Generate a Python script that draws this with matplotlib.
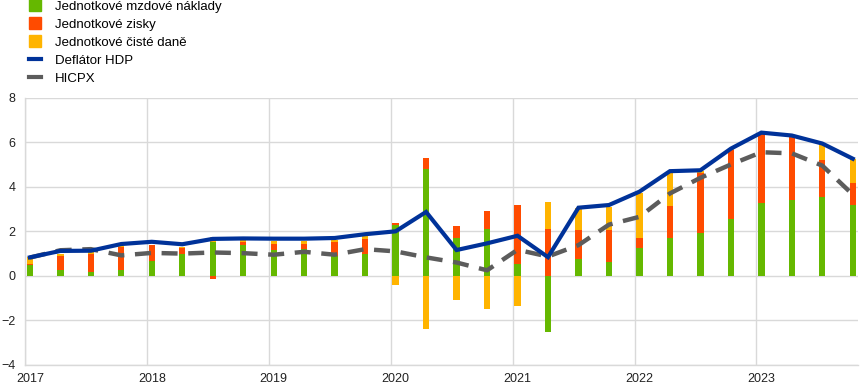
import matplotlib
matplotlib.use("Agg")
import matplotlib.pyplot as plt
import numpy as np
from matplotlib.patches import Patch
from matplotlib.lines import Line2D

plt.rcParams['font.family'] = ['Liberation Sans', 'DejaVu Sans']

years = [2017, 2018, 2019, 2020, 2021, 2022, 2023]
quarters = [f"{y}Q{q}" for y in years for q in range(1, 5)]

labour = [0.50, 0.27, 0.17, 0.27, 0.65, 1.00, 1.50, 1.40, 1.18, 1.19, 0.90, 0.99,
          2.27, 4.79, 1.70, 2.10, 0.55, -2.50, 0.76, 0.64, 1.26, 1.71, 1.91, 2.56,
          3.26, 3.41, 3.56, 3.17]
profits = [0.05, 0.62, 0.83, 1.03, 0.75, 0.23, -0.15, 0.10, 0.25, 0.26, 0.62, 0.68,
           0.10, 0.52, 0.54, 0.81, 2.61, 2.09, 1.30, 1.42, 0.45, 1.42, 2.71, 3.11,
           3.09, 2.83, 1.63, 1.00]
taxes = [0.28, 0.11, 0.05, 0.03, 0.00, 0.07, 0.26, 0.10, 0.15, 0.11, 0.08, 0.12,
         -0.39, -2.39, -1.10, -1.49, -1.36, 1.21, 0.97, 1.01, 2.00, 1.49, 0.10, 0.07,
         0.00, 0.00, 0.73, 1.09]
gdp_deflator = [0.83, 1.12, 1.13, 1.43, 1.53, 1.42, 1.66, 1.68, 1.67, 1.67, 1.70, 1.87,
                2.00, 2.87, 1.16, 1.46, 1.80, 0.84, 3.06, 3.18, 3.78, 4.70, 4.74, 5.71,
                6.43, 6.30, 5.94, 5.26]
hicpx = [0.82, 1.15, 1.20, 0.92, 1.03, 1.00, 1.05, 1.02, 0.95, 1.08, 0.95, 1.20,
         1.10, 0.83, 0.60, 0.25, 1.17, 0.87, 1.38, 2.30, 2.65, 3.70, 4.40, 5.00,
         5.55, 5.50, 4.95, 3.65]

series_names = ["Jednotkové mzdové náklady", "Jednotkové zisky", "Jednotkové čisté daně"]
line_names = ["Deflátor HDP", "HICPX"]

GREEN = "#65B800"
ORANGE = "#FF4B00"
YELLOW = "#FFB400"
BLUE = "#003299"
GRAY = "#5C5C5C"

t = np.array([int(q[:4]) + (int(q[-1]) - 1) * 0.25 + 0.04 for q in quarters])

fig = plt.figure(figsize=(8.68, 3.92), dpi=100)
ax = fig.add_axes([0.0288, 0.0689, 0.9597, 0.682])

pos_bottom = np.zeros(len(t))
neg_bottom = np.zeros(len(t))
width = 0.052
for vals, col in zip([labour, profits, taxes], [GREEN, ORANGE, YELLOW]):
    v = np.array(vals)
    b = np.where(v >= 0, pos_bottom, neg_bottom)
    ax.bar(t, v, width=width, bottom=b, color=col, linewidth=0, zorder=2)
    pos_bottom = pos_bottom + np.where(v >= 0, v, 0)
    neg_bottom = neg_bottom + np.where(v < 0, v, 0)

ax.plot(t, gdp_deflator, color=BLUE, lw=3.0, zorder=4, solid_joinstyle='miter')
ax.plot(t, hicpx, color=GRAY, lw=3.2, dashes=(3.6, 2.4), zorder=3)

ax.set_xlim(2017, 2023.833)
ax.set_ylim(-4, 8)
ax.set_yticks(range(-4, 9, 2))
ax.set_xticks(years)
ax.set_xticklabels([])
ax.set_xticks([y + 0.04 for y in years], minor=True)
ax.set_xticklabels([str(y) for y in years], minor=True)
ax.tick_params(axis='x', which='both', length=0, pad=6, labelsize=9, colors='#222222')
ax.tick_params(axis='y', length=0, pad=7, labelsize=9, colors='#222222')
ax.grid(True, which='major', color='#D9D9D9', lw=1.0, zorder=0)
ax.set_axisbelow(True)
for s in ['top', 'right']:
    ax.spines[s].set_visible(False)
for s in ['left', 'bottom']:
    ax.spines[s].set_color('#D9D9D9')
    ax.spines[s].set_linewidth(1.0)

handles = [Patch(color=GREEN), Patch(color=ORANGE), Patch(color=YELLOW),
           Line2D([], [], color=BLUE, lw=3), Line2D([], [], color=GRAY, lw=3)]
fig.legend(handles, series_names + line_names, loc='upper left',
           bbox_to_anchor=(0.027, 1.015), frameon=False, fontsize=9.5,
           handlelength=0.9, handleheight=1.0, handletextpad=1.1,
           labelspacing=0.35, borderaxespad=0)

fig.savefig("out.png", dpi=100)
